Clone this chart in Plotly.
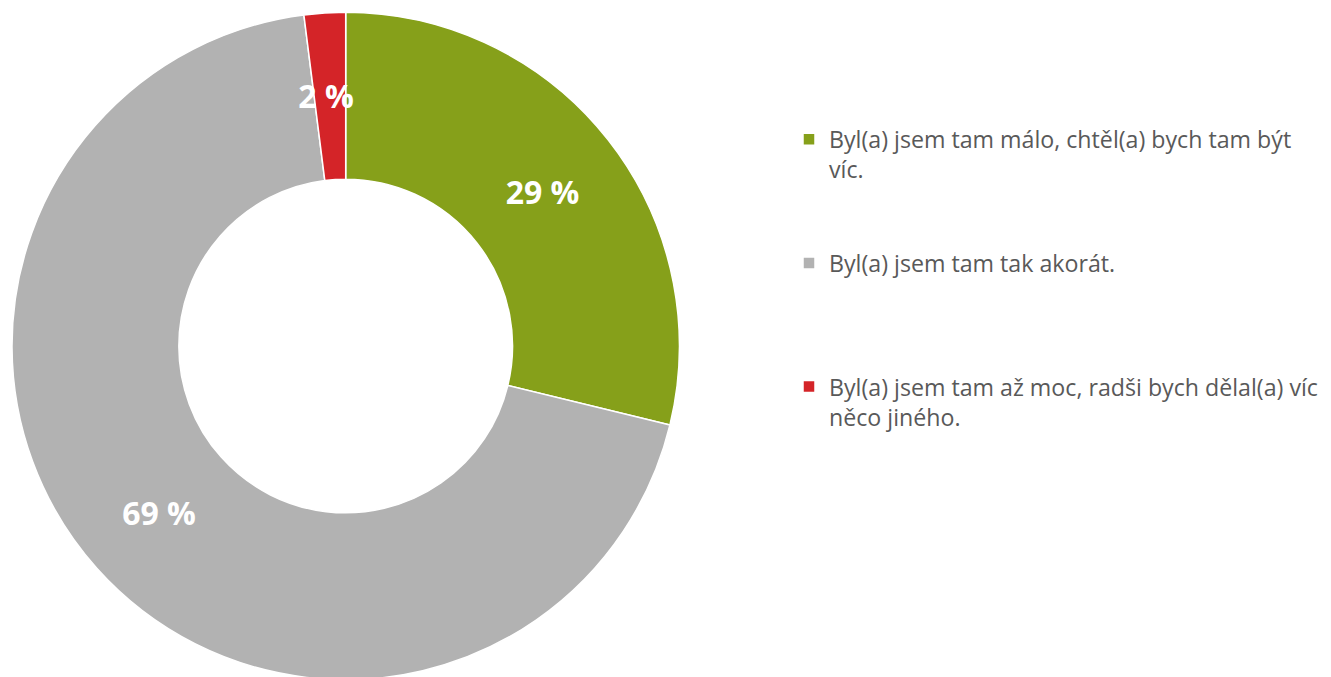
import plotly.graph_objects as go

categories = [
    "Byl(a) jsem tam málo, chtěl(a) bych tam být<br>víc.",
    "Byl(a) jsem tam tak akorát.",
    "Byl(a) jsem tam až moc, radši bych dělal(a) víc<br>něco jiného.",
]
values = [28.8, 69.2, 2.0]
value_labels = ["29 %", "69 %", "2 %"]
colors = ["#86A01A", "#B2B2B2", "#D42428"]

# blank lines above a label push it toward the middle of the ring (thin slice)
label_pad_lines = [0, 0, 3]
slice_text = ["&nbsp;<br>" * k + lbl for lbl, k in zip(value_labels, label_pad_lines)]

PAD = "<br>&nbsp;"
n_lines = [2, 1, 2]
legend_names = [c + PAD * (4 - n) for c, n in zip(categories, n_lines)]

W, H = 1360, 690

fig = go.Figure(
    go.Pie(
        labels=legend_names,
        values=values,
        text=slice_text,
        textinfo="text",
        textposition="inside",
        insidetextorientation="horizontal",
        textfont=dict(family="Open Sans", size=32, color="white", weight="bold"),
        marker=dict(colors=colors, line=dict(color="white", width=1.5)),
        hole=0.5,
        sort=False,
        direction="clockwise",
        rotation=0,
        domain=dict(x=[4.0 / W, 671.4 / W], y=[0.0, 1.0]),
        hoverinfo="label+percent",
    )
)

fig.update_layout(
    width=W,
    height=H,
    margin=dict(l=0, r=0, t=4, b=18),
    paper_bgcolor="white",
    plot_bgcolor="white",
    uniformtext=dict(minsize=32, mode="show"),
    showlegend=True,
    legend=dict(
        x=781 / W,
        y=0.8418,
        xanchor="left",
        yanchor="top",
        valign="top",
        font=dict(family="Open Sans", size=23.2, color="#595959"),
        bgcolor="rgba(0,0,0,0)",
    ),
)

fig.write_html("out.html")
